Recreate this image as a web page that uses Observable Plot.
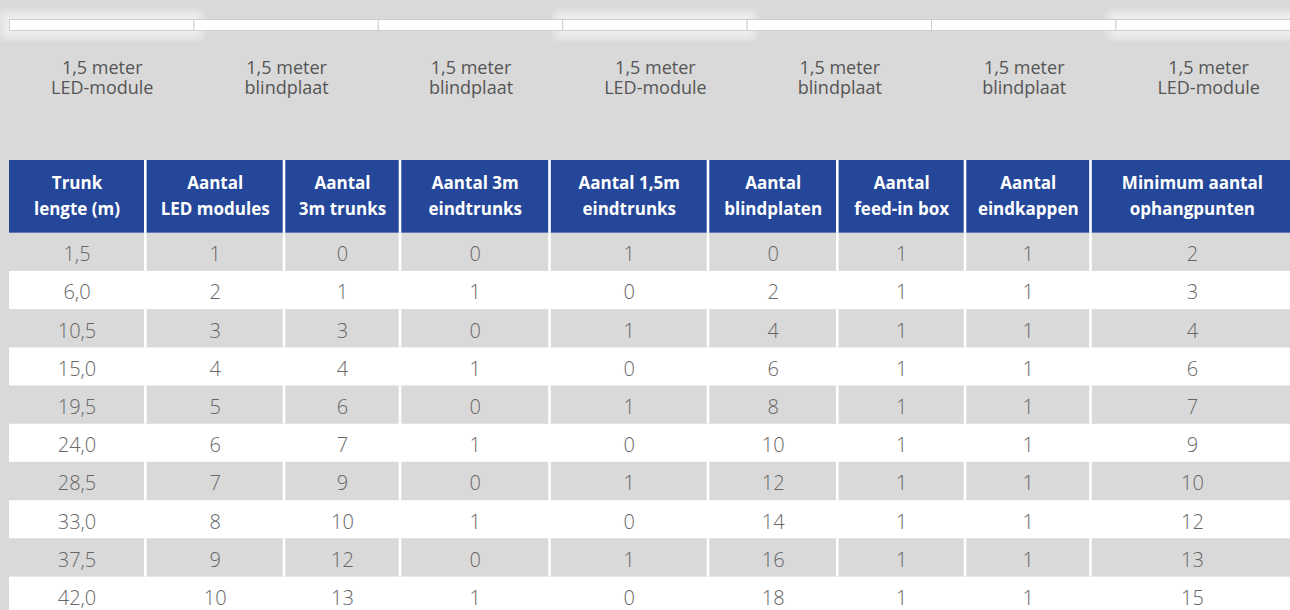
<!DOCTYPE html>
<html>
<head>
<meta charset="utf-8">
<script src="https://cdn.jsdelivr.net/npm/d3@7"></script>
<script src="https://cdn.jsdelivr.net/npm/@observablehq/plot@0.6"></script>
<style>
  html, body { margin: 0; padding: 0; background: #d9d9d9; }
  #chart svg { display: block; }
</style>
</head>
<body>
<div id="chart"></div>
<script>
// ---- Data ----
const segmentTypes = ["LED-module", "blindplaat", "blindplaat", "LED-module", "blindplaat", "blindplaat", "LED-module"];
const segmentLength = "1,5 meter";

const headers = [
  "Trunk\nlengte (m)",
  "Aantal\nLED modules",
  "Aantal\n3m trunks",
  "Aantal 3m\neindtrunks",
  "Aantal 1,5m\neindtrunks",
  "Aantal\nblindplaten",
  "Aantal\nfeed-in box",
  "Aantal\neindkappen",
  "Minimum aantal\nophangpunten"
];

const trunkLengths   = ["1,5", "6,0", "10,5", "15,0", "19,5", "24,0", "28,5", "33,0", "37,5", "42,0"];
const ledModules     = [1, 2, 3, 4, 5, 6, 7, 8, 9, 10];
const trunks3m       = [0, 1, 3, 4, 6, 7, 9, 10, 12, 13];
const endTrunks3m    = [0, 1, 0, 1, 0, 1, 0, 1, 0, 1];
const endTrunks15m   = [1, 0, 1, 0, 1, 0, 1, 0, 1, 0];
const blindPlates    = [0, 2, 4, 6, 8, 10, 12, 14, 16, 18];
const feedInBoxes    = [1, 1, 1, 1, 1, 1, 1, 1, 1, 1];
const endCaps        = [1, 1, 1, 1, 1, 1, 1, 1, 1, 1];
const suspensionPts  = [2, 3, 4, 6, 7, 9, 10, 12, 13, 15];

const columns = [trunkLengths, ledModules, trunks3m, endTrunks3m, endTrunks15m, blindPlates, feedInBoxes, endCaps, suspensionPts];

// ---- Layout (pixel units of the x/y scales) ----
const W = 1290, H = 610;
const colEdges = [9, 145.3, 284, 400, 549.5, 708, 837.3, 965, 1090.5, 1292];
const gap = 2.6;
const headerTop = 160, headerBottom = 232.7, rowH = 38.2;
const segStart = 9.5, segW = 184.4, segTop = 19.5, segBottom = 30.5;
const labelY = 77;

const segments = segmentTypes.map((t, i) => ({
  type: t,
  label: segmentLength + "\n" + t,
  x1: segStart + i * segW,
  x2: segStart + (i + 1) * segW
}));
// soft glow layers around the LED modules
const glowLayers = [];
for (const s of segments.filter(d => d.type === "LED-module")) {
  for (let k = 12; k >= 1; k--) glowLayers.push({x1: s.x1 - k, x2: s.x2 + k, y1: segTop - k, y2: segBottom + k});
}

function cellX(c) {
  return {
    x1: colEdges[c] + (c === 0 ? 0 : gap / 2),
    x2: colEdges[c + 1] - (c === columns.length - 1 ? 0 : gap / 2)
  };
}

const headerCells = headers.map((h, c) => ({text: h, ...cellX(c), y1: headerTop, y2: headerBottom}));

const rows = trunkLengths.map((_, r) => ({
  r,
  y1: headerBottom + r * rowH,
  y2: headerBottom + (r + 1) * rowH,
  shaded: r % 2 === 0
}));

const bodyCells = [];
for (const row of rows) {
  columns.forEach((col, c) => {
    bodyCells.push({text: String(col[row.r]), ...cellX(c), y1: row.y1, y2: row.y2, shaded: row.shaded});
  });
}

const chart = Plot.plot({
  width: W,
  height: H,
  margin: 0,
  x: {domain: [0, W], range: [0, W], axis: null},
  y: {domain: [0, H], range: [0, H], axis: null},
  style: {background: "#d9d9d9", overflow: "hidden"},
  marks: [
    // glow behind LED modules
    Plot.rect(glowLayers, {x1: "x1", x2: "x2", y1: "y1", y2: "y2", rx: 8, fill: "white", fillOpacity: 0.09}),
    // strip segments
    Plot.rect(segments, {x1: "x1", x2: "x2", y1: segTop, y2: segBottom, fill: "white", stroke: "#cfcfcf", strokeWidth: 1}),
    // segment labels
    Plot.text(segments, {
      x: d => (d.x1 + d.x2) / 2, y: labelY, text: "label",
      fill: "#555555", fontSize: 18, lineHeight: 1.12,
      fontFamily: "'Open Sans', sans-serif"
    }),
    // white background under table rows (gives separators in shaded rows)
    Plot.rect(rows, {x1: colEdges[0], x2: W + 2, y1: "y1", y2: "y2", fill: "white"}),
    // shaded cells
    Plot.rect(bodyCells.filter(d => d.shaded), {x1: "x1", x2: "x2", y1: "y1", y2: "y2", fill: "#d9d9d9"}),
    // header background separators
    Plot.rect([0], {x1: colEdges[0], x2: W + 2, y1: headerTop, y2: headerBottom, fill: "white"}),
    // header cells
    Plot.rect(headerCells, {x1: "x1", x2: "x2", y1: "y1", y2: "y2", fill: "#24479a"}),
    // header text
    Plot.text(headerCells, {
      x: d => (d.x1 + d.x2) / 2, y: d => (d.y1 + d.y2) / 2 - 3, text: "text",
      fill: "white", fontSize: 17, fontWeight: "bold", lineHeight: 1.5,
      fontFamily: "'Open Sans', sans-serif"
    }),
    // body text
    Plot.text(bodyCells, {
      x: d => (d.x1 + d.x2) / 2, y: d => (d.y1 + d.y2) / 2 + 2.5, text: "text",
      fill: "#666666", fontSize: 20, fontWeight: 300,
      fontFamily: "'Open Sans', sans-serif"
    })
  ]
});

document.getElementById("chart").appendChild(chart);
</script>
</body>
</html>
